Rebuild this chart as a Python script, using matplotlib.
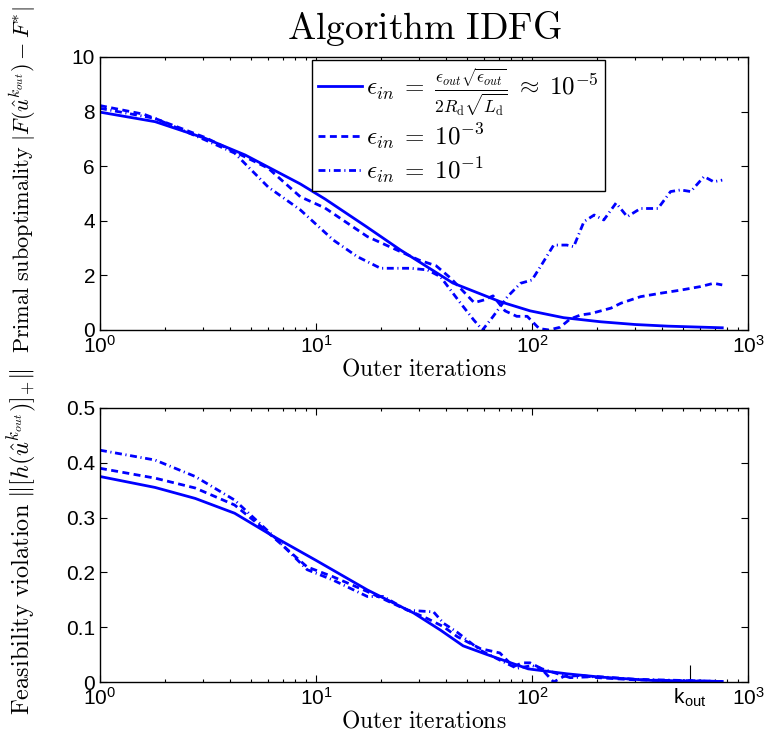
import matplotlib
matplotlib.use('Agg')
import matplotlib.pyplot as plt

plt.rcParams['font.family'] = ['Liberation Sans', 'DejaVu Sans']
plt.rcParams['mathtext.fontset'] = 'cm'

# top panel: primal suboptimality
top_x_eps5 = [1, 1.8, 3.07, 4.7, 8.46, 11, 17, 24.6, 43, 71, 98, 140, 208, 300, 425, 760]
top_y_eps5 = [7.98, 7.63, 7.02, 6.41, 5.35, 4.8, 3.8, 2.93, 1.72, 1.04, 0.7, 0.45, 0.3, 0.2, 0.14, 0.08]

top_x_eps3 = [1, 1.6, 3.07, 6, 8.46, 11, 17.3, 30, 36, 42, 54, 60, 66, 75, 85, 95, 108, 120,
              135, 150, 168, 187, 232, 258, 318, 397, 488, 603, 693, 760]
top_y_eps3 = [8.22, 7.9, 7.05, 5.93, 4.88, 4.47, 3.42, 2.56, 2.35, 1.9, 1.0, 1.1, 1.25, 0.7, 0.5,
              0.5, 0.05, 0.0, 0.1, 0.4, 0.55, 0.6, 0.8, 0.98, 1.22, 1.35, 1.46, 1.59, 1.71, 1.65]

top_x_eps1 = [1, 1.8, 3.07, 4.2, 6, 8.46, 12, 15.5, 19.9, 27.4, 32.8, 37.7, 46.7, 53.7, 59, 66,
              77, 88.5, 100, 112, 126, 145, 156, 174, 194, 215, 245, 276, 318, 383, 438, 488,
              543, 626, 693, 760]
top_y_eps1 = [8.12, 7.75, 6.96, 6.48, 5.24, 4.4, 3.3, 2.69, 2.26, 2.26, 2.2, 1.95, 0.98, 0.37, 0.0,
              0.49, 1.22, 1.71, 1.83, 2.45, 3.11, 3.11, 3.05, 3.97, 4.21, 4.03, 4.65, 4.15, 4.45,
              4.45, 5.07, 5.13, 5.07, 5.62, 5.43, 5.49]

# bottom panel: feasibility violation
bot_x_eps5 = [1, 1.8, 2.76, 4.2, 6.4, 10, 17.3, 28.3, 37.6, 48, 62, 96, 145, 207, 355, 760]
bot_y_eps5 = [0.375, 0.355, 0.335, 0.308, 0.265, 0.222, 0.168, 0.126, 0.095, 0.066, 0.05,
              0.024, 0.015, 0.009, 0.003, 0.001]

bot_x_eps3 = [1, 1.8, 2.76, 4.2, 5.6, 9.1, 12, 17.3, 24.6, 32.7, 38.9, 45, 57.6, 71, 82, 90, 98,
              110, 126, 140, 170, 200, 300, 760]
bot_y_eps3 = [0.39, 0.372, 0.354, 0.323, 0.283, 0.21, 0.192, 0.165, 0.137, 0.116, 0.101, 0.083,
              0.061, 0.053, 0.028, 0.035, 0.035, 0.025, 0.0, 0.01, 0.012, 0.008, 0.004, 0.001]

bot_x_eps1 = [1, 1.8, 2.76, 4.2, 6.4, 9.1, 12, 17.3, 20.5, 26.5, 35, 39, 45, 57.6, 71, 85, 100,
              120, 150, 200, 300, 760]
bot_y_eps1 = [0.423, 0.405, 0.375, 0.332, 0.265, 0.205, 0.186, 0.156, 0.156, 0.131, 0.128, 0.107,
              0.091, 0.058, 0.04, 0.025, 0.03, 0.02, 0.008, 0.01, 0.005, 0.001]

k_out = 540

legend_labels = [
    r'$\epsilon_{in}\;=\;\frac{\epsilon_{out}\sqrt{\epsilon_{out}}}{2R_{\rm d}\sqrt{L_{\rm d}}}\;\approx\;10^{-5}$',
    r'$\epsilon_{in}\;=\;10^{-3}$',
    r'$\epsilon_{in}\;=\;10^{-1}$',
]
top_yticks = [0, 2, 4, 6, 8, 10]
bot_yticks = [0, 0.1, 0.2, 0.3, 0.4, 0.5]
bot_yticklabels = ['0', '0.1', '0.2', '0.3', '0.4', '0.5']
bot_xticks = [1, 10, 100, k_out, 1000]
bot_xticklabels = [r'$\mathdefault{10^{0}}$', r'$\mathdefault{10^{1}}$', r'$\mathdefault{10^{2}}$',
                   r'$\mathdefault{k}_{\mathdefault{out}}$', r'$\mathdefault{10^{3}}$']

styles = ['-', (0, (2.5, 1.6)), (0, (2.5, 1.3, 0.4, 1.3))]
blue = (0, 0, 1)

fig = plt.figure(figsize=(7.69, 7.41), dpi=100)
ax1 = fig.add_axes([0.130, 0.5547, 0.8427, 0.3684])
ax2 = fig.add_axes([0.130, 0.0796, 0.8427, 0.3698])

for xs, ys, ls, lab in zip([top_x_eps5, top_x_eps3, top_x_eps1],
                           [top_y_eps5, top_y_eps3, top_y_eps1], styles, legend_labels):
    ax1.plot(xs, ys, color=blue, lw=2, linestyle=ls, label=lab)

for xs, ys, ls in zip([bot_x_eps5, bot_x_eps3, bot_x_eps1],
                      [bot_y_eps5, bot_y_eps3, bot_y_eps1], styles):
    ax2.plot(xs, ys, color=blue, lw=2, linestyle=ls)

for ax in [ax1, ax2]:
    ax.set_xscale('log')
    ax.set_xlim(1, 1000)
    ax.tick_params(which='both', direction='in', top=True, right=True, labelsize=15, width=0.8)
    ax.tick_params(which='major', length=5)
    ax.tick_params(which='minor', length=2.5)
    for s in ax.spines.values():
        s.set_linewidth(1.0)
    ax.set_xlabel(r'$\mathrm{Outer\ iterations}$', fontsize=17, labelpad=1)

ax1.set_ylim(0, 10)
ax1.set_yticks(top_yticks)
ax2.set_ylim(0, 0.5)
ax2.set_yticks(bot_yticks)
ax2.set_yticklabels(bot_yticklabels)
ax2.set_xticks(bot_xticks)
ax2.set_xticklabels(bot_xticklabels)
# longer tick mark at k_out on the bottom edge
ax2.xaxis.get_major_ticks()[3].tick1line.set_markersize(12)
ax2.xaxis.get_major_ticks()[3].tick2line.set_markersize(0)

ax1.set_title(r'$\mathrm{Algorithm\ IDFG}$', fontsize=27, pad=13)
ax1.set_ylabel(r'$\mathrm{Primal\ suboptimality}\ |F(\hat{u}^{k_{out}})-F^{*}|$', fontsize=16)
ax2.set_ylabel(r'$\mathrm{Feasibility\ violation}\ \|[h(\hat{u}^{k_{out}})]_{+}\|$', fontsize=17.5)
ax1.yaxis.set_label_coords(-0.095, 0.55)
ax2.yaxis.set_label_coords(-0.095, 0.51)

leg = ax1.legend(loc='upper left', bbox_to_anchor=(0.327, 0.99), fontsize=18, fancybox=False,
                 framealpha=1, edgecolor='black', handlelength=1.75, handletextpad=0.15,
                 borderpad=0.25, labelspacing=0.15, borderaxespad=0)
leg.get_frame().set_linewidth(1.0)

fig.savefig('out.png', dpi=100)
